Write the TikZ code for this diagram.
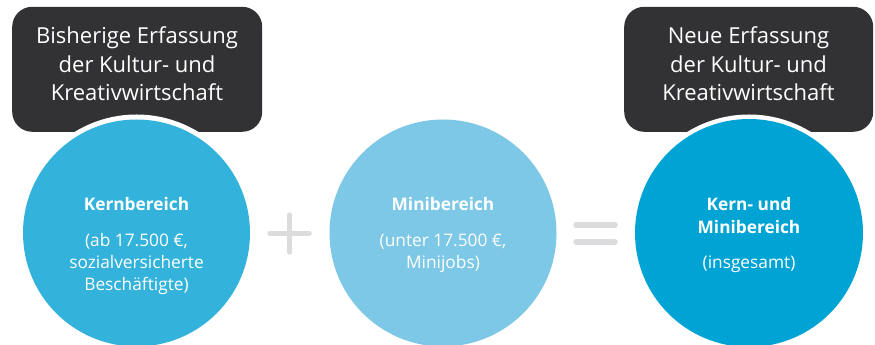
\documentclass[tikz,border=0pt]{standalone}
\usepackage{fontspec}
\setmainfont{Open Sans}
\definecolor{darkbg}{HTML}{323234}
\definecolor{kernblue}{HTML}{33B2DC}
\definecolor{miniblue}{HTML}{7CC8E6}
\definecolor{allblue}{HTML}{00A4D4}
\definecolor{signgray}{HTML}{DCDCDE}
\begin{document}
\begin{tikzpicture}[x=1pt,y=1pt,
  headbox/.style={fill=darkbg, rounded corners=20pt, minimum height=125pt, inner sep=0pt},
  headtext/.style={text=white, align=center, inner sep=0pt, font=\fontsize{22}{28.5}\selectfont},
  ring/.style={circle, fill=white, minimum size=237pt, inner sep=0pt},
  disc/.style={circle, minimum size=227pt, inner sep=0pt},
  disctext/.style={text=white, align=center, inner sep=0pt, font=\fontsize{17.3}{22}\selectfont},
  sign/.style={draw=signgray, line width=5.5pt, line cap=round}
]
\useasboundingbox (0,0) rectangle (875,345);
\fill[white] (0,0) rectangle (875,345);
% header boxes
\node[headbox, anchor=south west, minimum width=250pt] (hbox1) at (12,213) {};
\node[headbox, anchor=south west, minimum width=249pt] (hbox2) at (624,213) {};
% white rings
\node[ring] (ring1) at (136.5,112) {};
\node[ring] (ring3) at (749,112) {};
% discs
\node[disc, fill=kernblue] (c1) at (136.5,112) {};
\node[disc, fill=miniblue] (c2) at (443,112) {};
\node[disc, fill=allblue, minimum size=228pt] (c3) at (749,112) {};
% header texts
\node[headtext, anchor=north] (h1) at (137,318.5) {Bisherige Erfassung\\der Kultur- und\\Kreativwirtschaft};
\node[headtext, anchor=north] (h2) at (748.5,318.5) {Neue Erfassung\\der Kultur- und\\Kreativwirtschaft};
% disc texts
\node[disctext, anchor=north] (t1) at (136.5,148) {\textbf{Kernbereich}\\[14pt](ab 17.500 €,\\sozialversicherte\\Beschäftigte)};
\node[disctext, anchor=north] (t2) at (443,148) {\textbf{Minibereich}\\[14pt](unter 17.500 €,\\Minijobs)};
\node[disctext, anchor=north] (t3) at (749,148) {\textbf{Kern- und}\\[1.5pt]\textbf{Minibereich}\\[13pt](insgesamt)};
% plus sign
\coordinate (plusc) at (289.5,111.5);
\coordinate (pl) at (270,111.5);
\coordinate (pr) at (309,111.5);
\coordinate (pt) at (289.5,130);
\coordinate (pb) at (289.5,93);
\draw[sign] (pl) -- (pr);
\draw[sign] (pt) -- (pb);
% equals sign
\coordinate (e1l) at (576,120);
\coordinate (e1r) at (615,120);
\coordinate (e2l) at (576,103);
\coordinate (e2r) at (615,103);
\draw[sign] (e1l) -- (e1r);
\draw[sign] (e2l) -- (e2r);
\end{tikzpicture}
\end{document}
